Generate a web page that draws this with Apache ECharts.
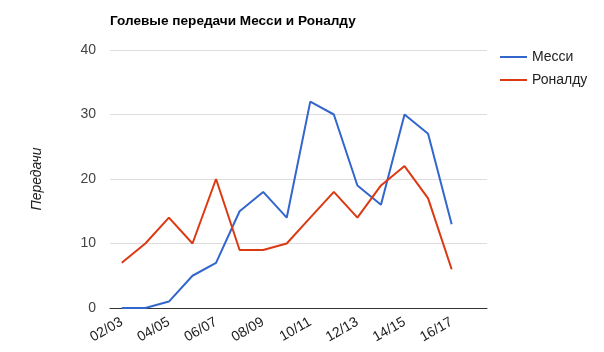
<!DOCTYPE html>
<html>
<head>
<meta charset="utf-8">
<script src="https://cdn.jsdelivr.net/npm/echarts@6/dist/echarts.min.js"></script>
<style>
  html, body { margin: 0; padding: 0; background: #fff; }
  #chart { width: 604px; height: 352px; }
</style>
</head>
<body>
<div id="chart"></div>
<script>
// сезоны (последний пустой, как в оригинале)
var seasons = ['02/03', '03/04', '04/05', '05/06', '06/07', '07/08', '08/09', '09/10',
               '10/11', '11/12', '12/13', '13/14', '14/15', '15/16', '16/17', '17/18'];
var messi   = [0, 0, 1, 5, 7, 15, 18, 14, 32, 30, 19, 16, 30, 27, 13, null];
var ronaldo = [7, 10, 14, 10, 20, 9, 9, 10, 14, 18, 14, 19, 22, 17, 6, null];
var yTicks  = [0, 10, 20, 30, 40];

var chart = echarts.init(document.getElementById('chart'));
var font = 'Arial, "Liberation Sans", sans-serif';

var option = {
    animation: false,
    textStyle: { fontFamily: font },
    title: {
        text: 'Голевые передачи Месси и Роналду',
        left: 105,
        top: 9,
        textStyle: { fontSize: 13.6, fontWeight: 'bold', color: '#000', fontFamily: font }
    },
    legend: {
        orient: 'vertical',
        left: 495,
        top: 45,
        itemWidth: 27,
        itemHeight: 2,
        itemGap: 9,
        icon: 'rect',
        textStyle: { fontSize: 14, color: '#222', fontFamily: font },
        data: ['Месси', 'Роналду']
    },
    grid: { left: 110, right: 117, top: 50, bottom: 44 },
    xAxis: {
        type: 'category',
        data: seasons,
        boundaryGap: true,
        axisLine: { lineStyle: { color: '#333', width: 1 } },
        axisTick: { show: false },
        axisLabel: {
            interval: 1,
            rotate: 30,
            fontSize: 14,
            color: '#222',
            margin: 13,
            fontFamily: font
        }
    },
    yAxis: {
        type: 'value',
        min: yTicks[0],
        max: yTicks[yTicks.length - 1],
        interval: 10,
        name: 'Передачи',
        nameLocation: 'middle',
        nameGap: 66,
        nameTextStyle: { fontSize: 14, fontStyle: 'italic', color: '#222', fontFamily: font },
        axisLine: { show: false },
        axisTick: { show: false },
        axisLabel: { fontSize: 14, color: '#444', margin: 14, fontFamily: font },
        splitLine: { lineStyle: { color: '#ddd' } }
    },
    series: [
        {
            name: 'Месси',
            type: 'line',
            data: messi,
            symbol: 'none',
            itemStyle: { color: '#3366cc' },
            lineStyle: { color: '#3366cc', width: 2 }
        },
        {
            name: 'Роналду',
            type: 'line',
            data: ronaldo,
            symbol: 'none',
            itemStyle: { color: '#dc3912' },
            lineStyle: { color: '#dc3912', width: 2 }
        }
    ]
};
chart.setOption(option);
</script>
</body>
</html>
